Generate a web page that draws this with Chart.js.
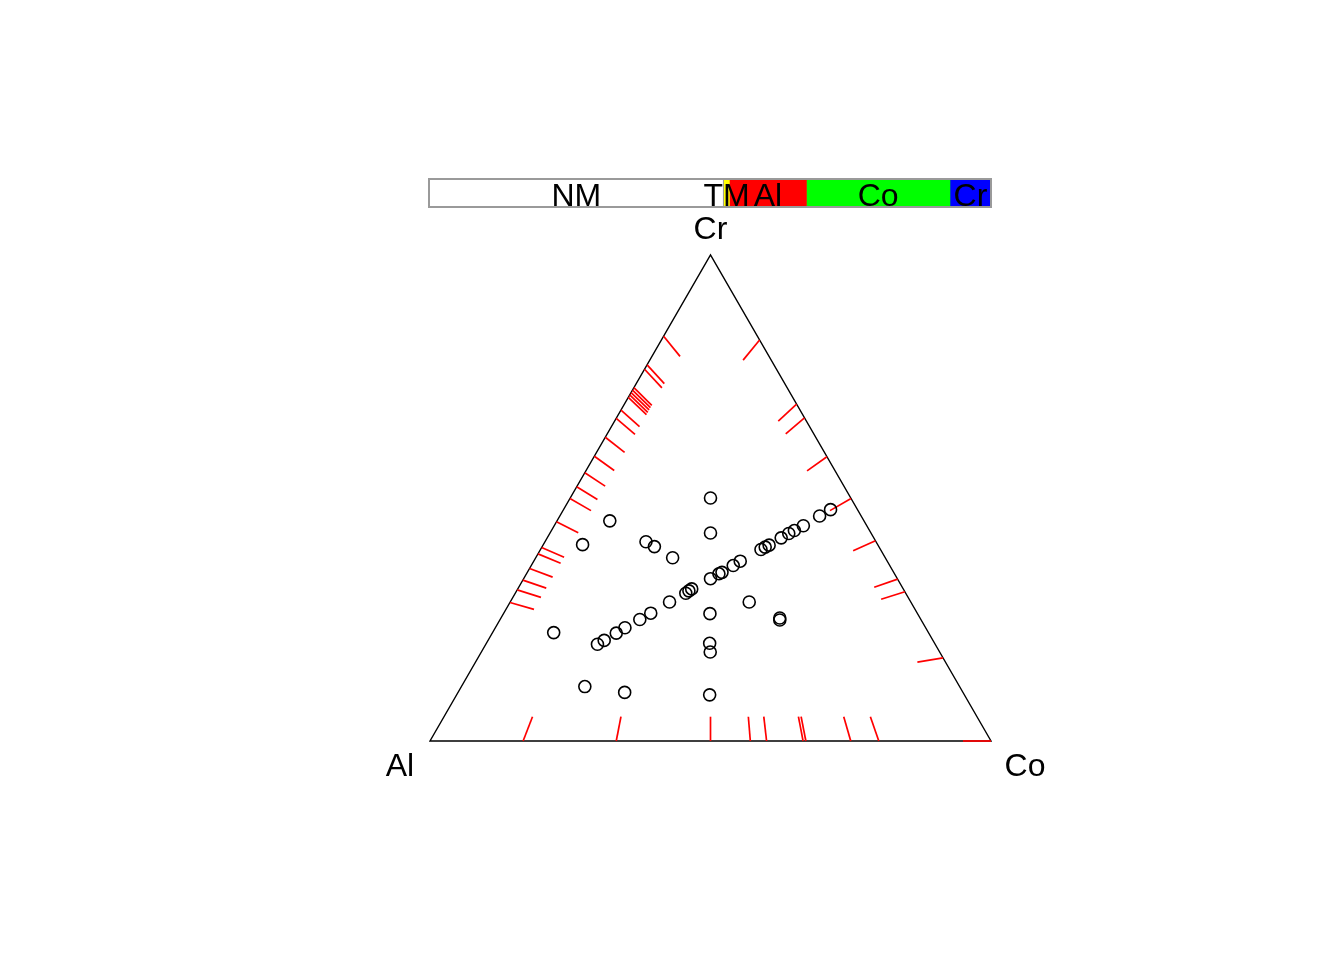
<!DOCTYPE html>
<html>
<head>
<meta charset="utf-8">
<title>Ternary plot Al-Co-Cr</title>
<script src="https://cdn.jsdelivr.net/npm/chart.js@4.4.1/dist/chart.umd.min.js"></script>
<style>
  html, body { margin: 0; padding: 0; background: #fff; }
  #wrap { position: relative; width: 1344px; height: 960px; }
  #ternChart { position: absolute; left: 0; top: 0; }
  #barChart { position: absolute; left: 427px; top: 177px; }
</style>
</head>
<body>
<div id="wrap">
  <canvas id="ternChart" width="1344" height="960"></canvas>
  <canvas id="barChart" width="566" height="32"></canvas>
</div>
<script>
// compositions of the plotted samples (fractions of Al, Co, Cr)
const alFrac = [0.250, 0.453, 0.286, 0.410, 0.400, 0.526, 0.379, 0.048, 0.074, 0.113,
                0.134, 0.147, 0.165, 0.194, 0.203, 0.213, 0.262, 0.279, 0.306, 0.313,
                0.333, 0.377, 0.384, 0.392, 0.430, 0.475, 0.501, 0.536, 0.557, 0.586,
                0.602, 0.668, 0.370, 0.288, 0.250, 0.252, 0.401, 0.409, 0.668, 0.603,
                0.454];
const coFrac = [0.250, 0.094, 0.286, 0.180, 0.200, 0.070, 0.244, 0.476, 0.463, 0.444,
                0.433, 0.426, 0.417, 0.403, 0.398, 0.393, 0.368, 0.360, 0.347, 0.343,
                0.333, 0.310, 0.307, 0.304, 0.284, 0.262, 0.249, 0.231, 0.221, 0.207,
                0.199, 0.109, 0.368, 0.426, 0.497, 0.499, 0.398, 0.408, 0.220, 0.297,
                0.451];
const crFrac = [0.500, 0.453, 0.428, 0.410, 0.400, 0.404, 0.377, 0.476, 0.463, 0.443,
                0.433, 0.427, 0.418, 0.403, 0.399, 0.394, 0.370, 0.361, 0.347, 0.344,
                0.334, 0.313, 0.309, 0.304, 0.286, 0.263, 0.250, 0.233, 0.222, 0.207,
                0.199, 0.223, 0.262, 0.286, 0.253, 0.249, 0.201, 0.183, 0.112, 0.100,
                0.095];

// rug ticks on each side: share of the second element on that side
const rugAlCr = [0.833, 0.774, 0.765, 0.727, 0.722, 0.717, 0.712, 0.707, 0.681, 0.664,
                 0.625, 0.586, 0.552, 0.523, 0.499, 0.451, 0.398, 0.385, 0.355, 0.331,
                 0.311, 0.285];
const rugCoCr = [0.825, 0.693, 0.665, 0.585, 0.499, 0.412, 0.333, 0.307, 0.171, 0.0];
const rugAlCo = [0.166, 0.332, 0.500, 0.571, 0.600, 0.665, 0.670, 0.750, 0.800];

const vertexNames = ['Al', 'Co', 'Cr'];

// class bar on top
const barLabels = ['NM', 'TM', 'Al', 'Co', 'Cr'];
const barShares = [0.524, 0.0103, 0.137, 0.2553, 0.073];
const barColors = ['#ffffff', '#ffff00', '#ff0000', '#00ff00', '#0000ff'];

const FONT = '"Liberation Sans", Arial, sans-serif';
const RUG_LEN = 0.05;

function toXY(al, co, cr) {
    const s = al + co + cr;
    return { x: (co + cr / 2) / s, y: (cr * Math.sqrt(3) / 2) / s };
}

const points = alFrac.map((a, i) => toXY(a, coFrac[i], crFrac[i]));

const ternaryFrame = {
    id: 'ternaryFrame',
    beforeDatasetsDraw(chart) {
        const { ctx, scales: { x, y } } = chart;
        const pix = p => [x.getPixelForValue(p.x), y.getPixelForValue(p.y)];
        const vAl = pix(toXY(1, 0, 0));
        const vCo = pix(toXY(0, 1, 0));
        const vCr = pix(toXY(0, 0, 1));

        ctx.save();
        ctx.strokeStyle = '#000';
        ctx.lineWidth = 1.4;
        ctx.beginPath();
        ctx.moveTo(vAl[0], vAl[1]);
        ctx.lineTo(vCo[0], vCo[1]);
        ctx.lineTo(vCr[0], vCr[1]);
        ctx.closePath();
        ctx.stroke();

        // rug ticks point toward the opposite corner
        ctx.strokeStyle = '#ff0000';
        ctx.lineWidth = 1.7;
        const tick = (a, b) => {
            const p = pix(a), q = pix(b);
            ctx.beginPath();
            ctx.moveTo(p[0], p[1]);
            ctx.lineTo(q[0], q[1]);
            ctx.stroke();
        };
        const k = 1 - RUG_LEN;
        rugAlCr.forEach(s => tick(toXY(1 - s, 0, s), toXY(k * (1 - s), RUG_LEN, k * s)));
        rugCoCr.forEach(s => tick(toXY(0, 1 - s, s), toXY(RUG_LEN, k * (1 - s), k * s)));
        rugAlCo.forEach(s => tick(toXY(1 - s, s, 0), toXY(k * (1 - s), k * s, RUG_LEN)));
        ctx.restore();
    },
    afterDraw(chart) {
        const { ctx, scales: { x, y } } = chart;
        const pix = p => [x.getPixelForValue(p.x), y.getPixelForValue(p.y)];
        const corners = [pix(toXY(1, 0, 0)), pix(toXY(0, 1, 0)), pix(toXY(0, 0, 1))];
        const offsets = [[-30, 35], [34, 35], [0, -16]];
        ctx.save();
        ctx.fillStyle = '#000';
        ctx.font = '32px ' + FONT;
        ctx.textAlign = 'center';
        ctx.textBaseline = 'alphabetic';
        vertexNames.forEach((name, i) => {
            ctx.fillText(name, corners[i][0] + offsets[i][0], corners[i][1] + offsets[i][1]);
        });
        ctx.restore();
    }
};

new Chart(document.getElementById('ternChart'), {
    type: 'scatter',
    data: {
        datasets: [{
            data: points,
            pointStyle: 'circle',
            pointRadius: 6,
            pointHoverRadius: 6,
            borderColor: '#000',
            backgroundColor: 'rgba(0,0,0,0)',
            borderWidth: 1.6
        }]
    },
    options: {
        responsive: false,
        animation: false,
        devicePixelRatio: 1,
        layout: { padding: { left: 430, right: 353, top: 255, bottom: 219 } },
        scales: {
            x: { type: 'linear', min: 0, max: 1, display: false },
            y: { type: 'linear', min: 0, max: Math.sqrt(3) / 2, display: false }
        },
        plugins: { legend: { display: false }, tooltip: { enabled: false } },
        events: []
    },
    plugins: [ternaryFrame]
});

const barText = {
    id: 'barText',
    afterDraw(chart) {
        const { ctx, chartArea } = chart;
        ctx.save();
        ctx.strokeStyle = '#9a9a9a';
        ctx.lineWidth = 2;
        ctx.strokeRect(chartArea.left, chartArea.top, chartArea.width, chartArea.height);
        ctx.fillStyle = '#000';
        ctx.font = '32px ' + FONT;
        ctx.textAlign = 'center';
        ctx.textBaseline = 'alphabetic';
        chart.data.datasets.forEach((ds, i) => {
            const bar = chart.getDatasetMeta(i).data[0];
            const { x, base } = bar.getProps(['x', 'base'], true);
            ctx.fillText(ds.label, (x + base) / 2, chartArea.bottom - 1.5);
        });
        ctx.restore();
    }
};

new Chart(document.getElementById('barChart'), {
    type: 'bar',
    data: {
        labels: [''],
        datasets: barLabels.map((lab, i) => ({
            label: lab,
            data: [barShares[i]],
            backgroundColor: barColors[i],
            borderColor: '#9a9a9a',
            borderWidth: i === 0 ? { right: 1 } : 0,
            borderSkipped: false,
            barPercentage: 1,
            categoryPercentage: 1
        }))
    },
    options: {
        indexAxis: 'y',
        responsive: false,
        animation: false,
        devicePixelRatio: 1,
        layout: { padding: 2 },
        scales: {
            x: { stacked: true, min: 0, max: barShares.reduce((a, b) => a + b, 0), display: false },
            y: { stacked: true, display: false }
        },
        plugins: { legend: { display: false }, tooltip: { enabled: false } },
        events: []
    },
    plugins: [barText]
});
</script>
</body>
</html>
